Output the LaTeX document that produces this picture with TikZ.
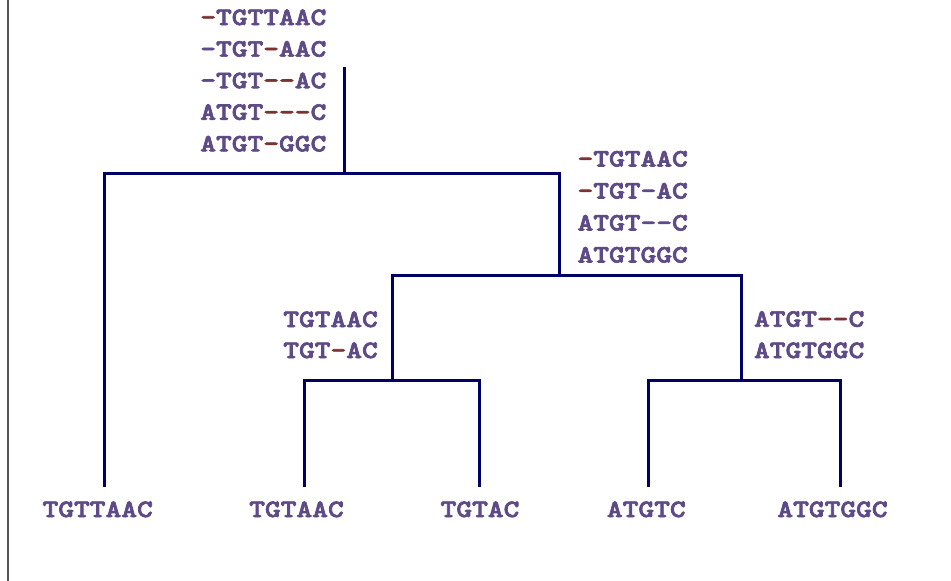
\documentclass[tikz,border=0pt]{standalone}
\usepackage{fontspec}
% heavy typewriter face for the sequences
\newfontfamily\seqfont{lmmonolt10-bold.otf}[Ligatures=TeXOff, FakeBold=2.5]
\definecolor{seqpurple}{HTML}{5E4A86}
\definecolor{gapred}{HTML}{7A3232}
\definecolor{treeblue}{HTML}{000066}
\definecolor{framegray}{HTML}{555555}
% a gap character shown in red
\newcommand{\gapc}{{\color{gapred}-}}
% widen the sequences a little
\newcommand{\sq}[1]{\scalebox{1.2}[1]{#1}}
\tikzset{
  seq/.style={inner sep=0pt, text=seqpurple, font=\seqfont\fontsize{25}{25}\selectfont},
  seqR/.style={seq, anchor=base east},
  seqC/.style={seq, anchor=base},
  branch/.style={draw=treeblue, line width=3pt, line join=miter, line cap=rect}
}
\begin{document}
\begin{tikzpicture}[x=1pt, y=-1pt]
\useasboundingbox (0,0) rectangle (951,581);
\fill[white] (0,0) rectangle (951,581);
% frame edge on the left
\draw[framegray, line width=2.4pt] (8,0) -- (8,581);

% tree junctions and leaf tips
\coordinate (rtop) at (344,68);
\coordinate (r) at (344,173);
\coordinate (a) at (559,275);
\coordinate (b) at (392,380);
\coordinate (c) at (741,380);
\coordinate (l1) at (104,485);
\coordinate (l2) at (304,485);
\coordinate (l3) at (479,485);
\coordinate (l4) at (648,485);
\coordinate (l5) at (840,485);

% branches
\draw[branch] (rtop) -- (r);
\draw[branch] (l1) |- (r) -| (a);
\draw[branch] (b) |- (a) -| (c);
\draw[branch] (l2) |- (b) -| (l3);
\draw[branch] (l4) |- (c) -| (l5);

% alignment at the root
\node[seqR] (r1) at (326.5,25)    {\sq{\gapc TGTTAAC}};
\node[seqR] (r2) at (326.5,56.6)  {\sq{-TGT\gapc AAC}};
\node[seqR] (r3) at (326.5,88.2)  {\sq{-TGT\gapc\gapc AC}};
\node[seqR] (r4) at (326.5,119.8) {\sq{ATGT\gapc\gapc\gapc C}};
\node[seqR] (r5) at (326.5,151.4) {\sq{ATGT\gapc GGC}};

% alignment at the inner node
\node[seqR] (a1) at (688,166.5) {\sq{\gapc TGTAAC}};
\node[seqR] (a2) at (688,198.5) {\sq{\gapc TGT-AC}};
\node[seqR] (a3) at (688,230.5) {\sq{ATGT--C}};
\node[seqR] (a4) at (688,262.5) {\sq{ATGTGGC}};

% alignments at the cherries
\node[seqR] (b1) at (378,327) {\sq{TGTAAC}};
\node[seqR] (b2) at (378,358) {\sq{TGT\gapc AC}};
\node[seqR] (c1) at (864.5,326.7) {\sq{ATGT\gapc\gapc C}};
\node[seqR] (c2) at (864.5,358)   {\sq{ATGTGGC}};

% leaf sequences
\node[seqC] (s1) at (97.7,517)  {\sq{TGTTAAC}};
\node[seqC] (s2) at (296.5,517) {\sq{TGTAAC}};
\node[seqC] (s3) at (480,517)   {\sq{TGTAC}};
\node[seqC] (s4) at (646.3,517) {\sq{ATGTC}};
\node[seqC] (s5) at (832.5,517) {\sq{ATGTGGC}};
\end{tikzpicture}
\end{document}
